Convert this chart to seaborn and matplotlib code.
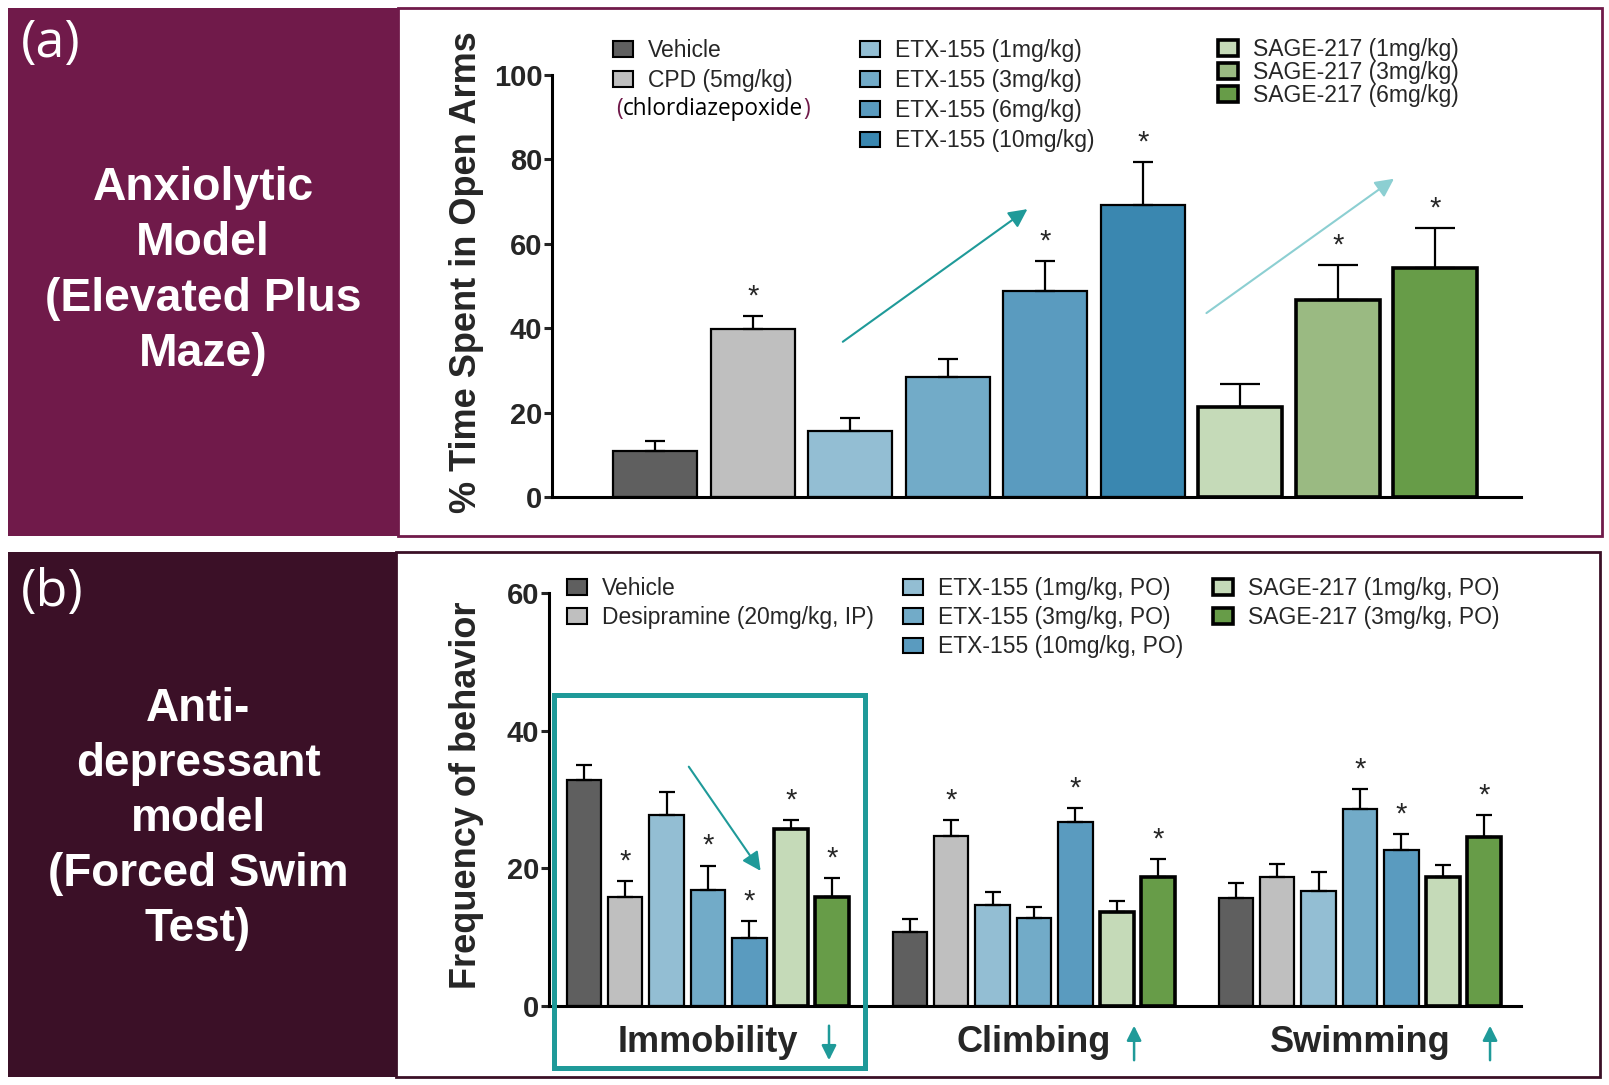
import matplotlib
matplotlib.use('Agg')
import matplotlib.pyplot as plt
from matplotlib.patches import Rectangle, Patch
from matplotlib.legend import Legend
from matplotlib.offsetbox import TextArea, HPacker, AnnotationBbox
import pandas as pd
import seaborn as sns


# (a) elevated plus maze
epm_groups = ['Vehicle', 'CPD (5mg/kg)', 'ETX-155 (1mg/kg)', 'ETX-155 (3mg/kg)', 'ETX-155 (6mg/kg)',
              'ETX-155 (10mg/kg)', 'SAGE-217 (1mg/kg)', 'SAGE-217 (3mg/kg)', 'SAGE-217 (6mg/kg)']
epm_mean = [11.0, 39.8, 15.6, 28.5, 48.8, 69.1, 21.4, 46.6, 54.3]
epm_sem = [2.2, 3.1, 3.2, 4.2, 7.1, 10.2, 5.4, 8.4, 9.5]
epm_star = [0, 1, 0, 0, 1, 1, 0, 1, 1]
epm_colors = ['#5f5f5f', '#bfbfbf', '#93bed3', '#72abc8', '#5a9bbf', '#3a87b0', '#c5dab8', '#9aba82', '#679c48']

# (b) forced swim test
fst_behaviors = ['Immobility', 'Climbing', 'Swimming']
fst_groups = ['Vehicle', 'Desipramine (20mg/kg, IP)', 'ETX-155 (1mg/kg, PO)', 'ETX-155 (3mg/kg, PO)',
              'ETX-155 (10mg/kg, PO)', 'SAGE-217 (1mg/kg, PO)', 'SAGE-217 (3mg/kg, PO)']
immobility_mean = [32.8, 15.8, 27.7, 16.8, 9.9, 25.7, 15.8]
immobility_sem = [2.2, 2.3, 3.4, 3.6, 2.5, 1.3, 2.8]
immobility_star = [0, 1, 0, 1, 1, 1, 1]
climbing_mean = [10.8, 24.7, 14.7, 12.8, 26.7, 13.7, 18.7]
climbing_sem = [1.8, 2.3, 1.9, 1.6, 2.0, 1.6, 2.7]
climbing_star = [0, 1, 0, 0, 1, 0, 1]
swimming_mean = [15.7, 18.7, 16.7, 28.6, 22.7, 18.7, 24.6]
swimming_sem = [2.1, 1.9, 2.8, 2.9, 2.3, 1.8, 3.2]
swimming_star = [0, 0, 0, 1, 1, 0, 1]
fst_colors = ['#5f5f5f', '#bfbfbf', '#93bed3', '#72abc8', '#5a9bbf', '#c5dab8', '#679c48']

W, H = 1609, 1085
MAROON = '#701a4a'
DARK = '#3b1027'
TEAL = '#1f9a99'
LTEAL = '#8ccfd2'
BOLD = ['Liberation Sans', 'DejaVu Sans']
NARROW = ['Liberation Sans Narrow', 'Liberation Sans', 'DejaVu Sans']

sns.set_style('white')
plt.rcParams['font.family'] = BOLD

fig = plt.figure(figsize=(W / 100, H / 100), dpi=100)


def px_box(x0, y0, x1, y1, **kw):
    # box in pixels, y measured from the top; kept behind the axes
    fig.add_artist(Rectangle((x0 / W, 1 - y1 / H), (x1 - x0) / W, (y1 - y0) / H,
                             transform=fig.transFigure, zorder=-5, **kw))


# background panels
px_box(8, 8, 398, 536, facecolor=MAROON, edgecolor='none')
px_box(398, 8, 1602, 536, facecolor='white', edgecolor=MAROON, linewidth=2)
px_box(8, 552, 396, 1077, facecolor=DARK, edgecolor='none')
px_box(396, 552, 1600, 1077, facecolor='white', edgecolor=DARK, linewidth=2)

fig.text(21 / W, 1 - 18 / H, '(a)', ha='left', va='top', color='white', fontsize=37.5,
         family=['Open Sans', 'DejaVu Sans'])
fig.text(21 / W, 1 - 567 / H, '(b)', ha='left', va='top', color='white', fontsize=37.5,
         family=['Open Sans', 'DejaVu Sans'])
fig.text(203 / W, 1 - 271 / H, 'Anxiolytic\nModel\n(Elevated Plus\nMaze)', ha='center', va='center',
         color='white', fontsize=33.3, fontweight='bold', linespacing=1.33)
fig.text(198 / W, 1 - 819 / H, 'Anti-\ndepressant\nmodel\n(Forced Swim\nTest)', ha='center', va='center',
         color='white', fontsize=33, fontweight='bold', linespacing=1.32)


def style_axis(ax):
    ax.set_facecolor('none')
    ax.spines[['top', 'right']].set_visible(False)
    for s in ['left', 'bottom']:
        ax.spines[s].set_linewidth(2.2)
        ax.spines[s].set_color('black')
    ax.tick_params(axis='y', direction='out', length=6, width=2.2, pad=1, left=True)
    for lab in ax.get_yticklabels():
        lab.set_fontfamily(NARROW)
        lab.set_fontweight('bold')
        lab.set_fontsize(21)


def add_errors(ax, x, mean, sem, star, lw, cap):
    ax.errorbar([x], [mean], yerr=[[0], [sem]], fmt='none', ecolor='black', elinewidth=lw,
                capsize=cap, capthick=lw, zorder=3)
    if star:
        ax.annotate('*', (x, mean + sem), xytext=(0, 4), textcoords='offset points',
                    ha='center', va='bottom', fontsize=21)


def add_legend(ax, labels, colors, lws, x, y, spacing):
    handles = [Patch(facecolor=c, edgecolor='black', linewidth=lw) for c, lw in zip(colors, lws)]
    leg = Legend(ax, handles, labels, loc='upper left', bbox_to_anchor=(x / W, 1 - y / H),
                 bbox_transform=fig.transFigure, frameon=False, fontsize=16.5,
                 handlelength=0.88, handleheight=0.66, handletextpad=0.65,
                 labelspacing=spacing, borderpad=0, borderaxespad=0)
    ax.add_artist(leg)


# ---- panel (a)
ax1 = fig.add_axes([552 / W, 1 - 497 / H, (1521 - 552) / W, (497 - 75) / H])
df_epm = pd.DataFrame({'group': epm_groups, 'mean': epm_mean})
sns.barplot(data=df_epm, x='group', y='mean', hue='group', palette=epm_colors, saturation=1,
            width=0.86, edgecolor='black', linewidth=1.6, errorbar=None, legend=False, ax=ax1)
for i, bar in enumerate(list(ax1.patches)):
    sage = epm_groups[i].startswith('SAGE')
    if sage:
        bar.set_linewidth(2.6)
    x = bar.get_x() + bar.get_width() / 2
    add_errors(ax1, x, epm_mean[i], epm_sem[i], epm_star[i], 1.6, 14.5 if sage else 7)
ax1.set_xlim(-1.06, 8.88)
ax1.set_ylim(0, 100)
ax1.set_yticks([0, 20, 40, 60, 80, 100])
ax1.set_xticks([])
ax1.set_xlabel('')
ax1.set_ylabel('% Time Spent in Open Arms', fontsize=26, fontweight='bold')
ax1.yaxis.set_label_coords(-0.070, 0.533)
style_axis(ax1)

ax1.annotate('', xy=(3.84, 68.6), xytext=(1.90, 36.4),
             arrowprops=dict(arrowstyle='-|>', color=TEAL, lw=1.5, mutation_scale=28))
ax1.annotate('', xy=(7.6, 75.8), xytext=(5.63, 43.2),
             arrowprops=dict(arrowstyle='-|>', color=LTEAL, lw=1.5, mutation_scale=28))

lw_a = [2.6 if g.startswith('SAGE') else 1.5 for g in epm_groups]
add_legend(ax1, epm_groups[:2], epm_colors[:2], lw_a[:2], 613, 39, 0.31)
add_legend(ax1, epm_groups[2:6], epm_colors[2:6], lw_a[2:6], 860, 39, 0.31)
add_legend(ax1, epm_groups[6:], epm_colors[6:], lw_a[6:], 1218, 38, 0.0)

paren = dict(color=MAROON, fontsize=16.3, family=['Open Sans', 'DejaVu Sans'])
word = dict(color='black', fontsize=16.3, family=['Open Sans', 'DejaVu Sans'])
pack = HPacker(children=[TextArea('(', textprops=paren), TextArea('chlordiazepoxide', textprops=word),
                         TextArea(')', textprops=paren)], pad=0, sep=0)
fig.add_artist(AnnotationBbox(pack, (713 / W, 1 - 109 / H), xycoords='figure fraction',
                              frameon=False, box_alignment=(0.5, 0.5), pad=0))

# ---- panel (b)
ax2 = fig.add_axes([549 / W, 1 - 1006 / H, (1521 - 549) / W, (1006 - 593) / H])
rows = []
for beh, vals in zip(fst_behaviors, [immobility_mean, climbing_mean, swimming_mean]):
    for g, m in zip(fst_groups, vals):
        rows.append((beh, g, m))
df_fst = pd.DataFrame(rows, columns=['behavior', 'group', 'value'])
sns.barplot(data=df_fst, x='behavior', y='value', hue='group', hue_order=fst_groups,
            palette=fst_colors, saturation=1, width=0.889, gap=0.17, edgecolor='black',
            linewidth=1.6, errorbar=None, legend=False, ax=ax2)

sems = [immobility_sem, climbing_sem, swimming_sem]
means = [immobility_mean, climbing_mean, swimming_mean]
stars = [immobility_star, climbing_star, swimming_star]
bar_conts = list(ax2.containers)
for gi, cont in enumerate(bar_conts):
    sage = fst_groups[gi].startswith('SAGE')
    for bi, bar in enumerate(cont):
        if sage:
            bar.set_linewidth(2.6)
        x = bar.get_x() + bar.get_width() / 2
        add_errors(ax2, x, means[bi][gi], sems[bi][gi], stars[bi][gi], 1.6, 6)

ax2.set_xlim(-0.488, 2.494)
ax2.set_ylim(0, 60)
ax2.set_yticks([0, 20, 40, 60])
ax2.set_xlabel('')
ax2.set_ylabel('Frequency of behavior', fontsize=26, fontweight='bold')
ax2.yaxis.set_label_coords(-0.067, 0.51)
ax2.tick_params(axis='x', length=0, pad=14, labelsize=26)
for lab in ax2.get_xticklabels():
    lab.set_fontweight('bold')
style_axis(ax2)

ax2.add_patch(Rectangle((-0.472, -9.0), 0.954, 54.2, fill=False, edgecolor=TEAL,
                        linewidth=3.6, clip_on=False, zorder=5))
ax2.annotate('', xy=(0.166, 19.3), xytext=(-0.064, 35.1),
             arrowprops=dict(arrowstyle='-|>', color=TEAL, lw=1.5, mutation_scale=28))
xt = ax2.get_xaxis_transform()
for x, down in [(0.371, True), (1.307, False), (2.399, False)]:
    top, bot = -0.041, -0.138
    ax2.annotate('', xy=(x, bot if down else top), xytext=(x, top if down else bot), xycoords=xt,
                 annotation_clip=False,
                 arrowprops=dict(arrowstyle='-|>', color=TEAL, lw=1.8, mutation_scale=22))

lw_b = [2.6 if g.startswith('SAGE') else 1.5 for g in fst_groups]
add_legend(ax2, fst_groups[:2], fst_colors[:2], lw_b[:2], 567, 577, 0.27)
add_legend(ax2, fst_groups[2:5], fst_colors[2:5], lw_b[2:5], 903, 577, 0.27)
add_legend(ax2, fst_groups[5:], fst_colors[5:], lw_b[5:], 1213, 577, 0.27)

fig.savefig('out.png', dpi=100, facecolor='white')
